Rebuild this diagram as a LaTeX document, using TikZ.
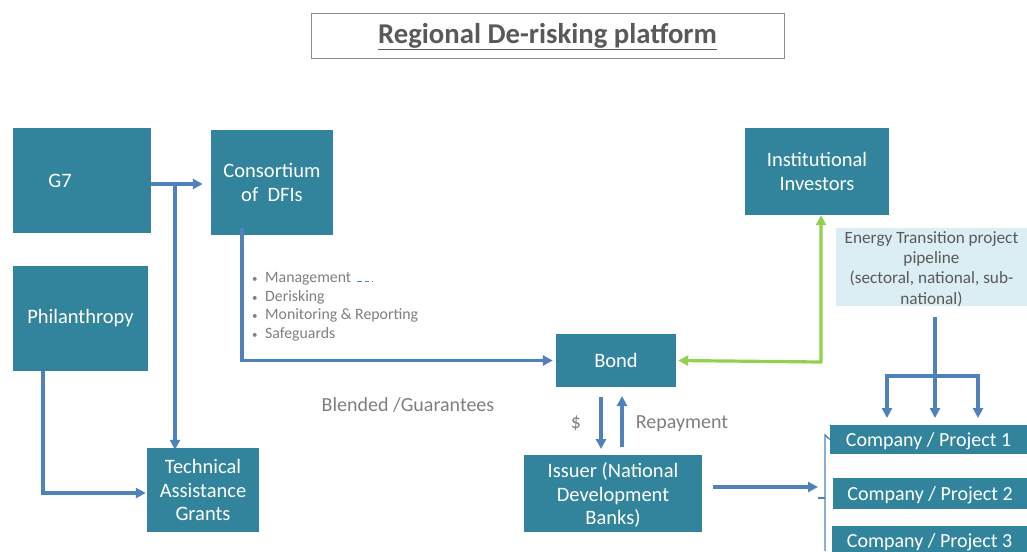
\documentclass[tikz,border=0pt]{standalone}
\usepackage{fontspec}
\setmainfont{Carlito}
\usetikzlibrary{arrows.meta,calc}
\definecolor{teal}{HTML}{31849B}
\definecolor{flow}{HTML}{4F81BD}
\definecolor{lime}{HTML}{92D050}
\definecolor{pale}{HTML}{DAEEF3}
\definecolor{ink}{HTML}{595959}
\definecolor{soft}{HTML}{7F7F7F}
\newcommand{\bul}{\makebox[13pt][l]{\fontsize{11}{11}\selectfont\textbullet}}
\begin{document}
\begin{tikzpicture}[x=1pt,y=-1pt,
  box/.style={fill=teal,text=white,font=\fontsize{20.5}{24}\selectfont,align=center,inner sep=0pt},
  tip/.style={-{Triangle[length=10pt,width=10pt]}},
  flowline/.style={draw=flow,line width=3.2pt,tip},
  plain/.style={draw=flow,line width=3.2pt},
  greenline/.style={draw=lime,line width=3.2pt,{Triangle[length=10pt,width=10pt]}-{Triangle[length=10pt,width=10pt]}},
  bracket/.style={draw=flow,line width=1.4pt},
  note/.style={text=soft,font=\fontsize{20}{24}\selectfont,inner sep=0pt,text depth=0pt},
  project/.style={fill=teal,text=white,font=\fontsize{20}{24}\selectfont,inner sep=0pt,text depth=0pt}]
\useasboundingbox (0,0) rectangle (1027,551);

% title
\node[draw=gray!90,line width=1pt,minimum width=473pt,minimum height=45pt,
  text=ink,font=\bfseries\fontsize{28.7}{32}\selectfont] (title) at (547.5,36.5)
  {\raisebox{-1.5pt}{\underline{Regional De-risking platform}}};

% boxes
\node[box,minimum width=138pt,minimum height=105pt] (g7) at (82,180.5) {\hspace*{-44pt}G7};
\node[box,minimum width=122pt,minimum height=105pt] (dfi) at (272,182.5) {Consortium\\[0pt]of\ \ DFIs};
\node[box,minimum width=135pt,minimum height=105pt] (phil) at (80.5,318.5) {Philanthropy};
\node[box,minimum width=112pt,minimum height=84pt] (ta) at (203,490) {Technical\\[-0.5pt]Assistance\\[-0.5pt]Grants};
\node[box,text depth=0pt,minimum width=120pt,minimum height=53pt] (bond) at (616,360.5) {Bond};
\node[box,minimum width=178pt,minimum height=77pt] (issuer) at (613,493.5) {};
\node[box,fill=none] (issuertext) at ($(issuer.center)+(0,1.5)$) {Issuer (National\\[-0.5pt]Development\\[-0.5pt]Banks)};
\node[box,minimum width=144pt,minimum height=87pt] (inv) at (817,171.5) {Institutional\\[0pt]Investors};
\node[fill=pale,inner sep=0pt,minimum width=191pt,minimum height=78pt] (pipe) at (931.5,267) {};
\node[text=ink,font=\fontsize{17.2}{20.4}\selectfont,align=center,inner sep=0pt] (pipetext)
  at ($(pipe.center)+(0,2)$) {Energy Transition project\\pipeline\\(sectoral, national, sub-\\national)};
\node[project,minimum width=197pt,minimum height=29pt] (p1) at (928.5,439.5) {Company / Project 1};
\node[project,minimum width=194pt,minimum height=31pt] (p2) at (930,493.5) {Company / Project 2};
\node[project,minimum width=195pt,minimum height=30pt] (p3) at (929.5,541) {Company / Project 3};

% bullet list
\node[note,text depth=,font=\fontsize{15.8}{18.7}\selectfont,align=left,anchor=north west] (list) at (252,272)
  {\bul Management\\ \bul Derisking\\ \bul Monitoring \& Reporting\\ \bul Safeguards};
\coordinate (da) at (357,281);
\coordinate (db) at (373,281);
\draw[flow,line width=0.9pt,dash pattern=on 4.5pt off 3pt] (da) -- (db);

% labels
\node[note] (blend) at (408,405) {Blended /Guarantees};
\node[note] (usd) at (576,422) {\$};
\node[note] (repay) at (682,422) {Repayment};

% funding flows on the left
\coordinate (split) at (175,184);
\coordinate (phildown) at (43,371);
\coordinate (dfidown) at (242,228);
\draw[flowline] (g7.east |- split) -- ([xshift=-8pt]dfi.west |- split);
\draw[flowline] (split) -- ([yshift=-2pt]split |- ta.north);
\draw[flowline] (phildown) |- ([xshift=-1pt]ta.west |- 0,493);
\draw[flowline] (dfidown) |- ([xshift=-3pt]bond.west);

% investors and bond
\coordinate (gcorner) at (821,362);
\draw[greenline] ([xshift=2pt]bond.east) -- (gcorner) -- (gcorner |- inv.south);

% bond and issuer
\coordinate (dtop) at (601,397);
\coordinate (dbot) at (601,449);
\coordinate (rtop) at (622,396);
\coordinate (rbot) at (622,447);
\draw[flowline] (dtop) -- (dbot);
\draw[flowline] (rbot) -- (rtop);

% pipeline fan-out
\coordinate (ptop) at (935,317);
\coordinate (pl) at (887,376);
\coordinate (pr) at (978,376);
\draw[flowline] (ptop) -- (935,418);
\draw[plain] ([xshift=-1.6pt]pl) -- ([xshift=1.6pt]pr);
\draw[flowline] ([yshift=-1.6pt]pl) -- (887,418);
\draw[flowline] ([yshift=-1.6pt]pr) -- (978,418);

% issuer to projects, with brace
\coordinate (iout) at (713,487);
\coordinate (bmid) at (818,498);
\draw[flowline] (iout) -- (bmid |- iout);
\draw[bracket] (p1.west) -- (825,435) -- (825,551);
\draw[bracket] (bmid) -- (825,498);
\end{tikzpicture}
\end{document}
